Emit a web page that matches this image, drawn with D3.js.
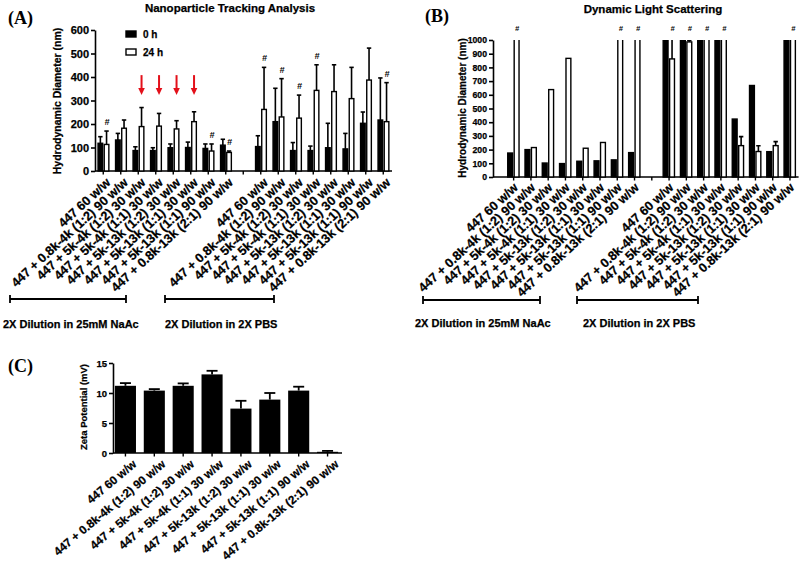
<!DOCTYPE html>
<html><head><meta charset="utf-8">
<script src="https://cdn.jsdelivr.net/npm/d3@7"></script>
<style>
body{margin:0;background:#fff}
svg{display:block}
text{font-family:"Liberation Sans",Arial,sans-serif;font-weight:bold;fill:#000}
text.s{stroke:#000;stroke-width:0.25px}
</style>
</head><body>
<svg id="chart" width="800" height="564"></svg>
<script>
// ---------------- DATA ----------------
const categories = [
  "447 60 w/w",
  "447 + 0.8k-4k (1:2) 90 w/w",
  "447 + 5k-4k (1:2) 30 w/w",
  "447 + 5k-4k (1:1) 30 w/w",
  "447 + 5k-13k (1:2) 30 w/w",
  "447 + 5k-13k (1:1) 30 w/w",
  "447 + 5k-13k (1:1) 90 w/w",
  "447 + 0.8k-13k (2:1) 90 w/w"
];
const buffers = ["2X Dilution in 25mM NaAc", "2X Dilution in 2X PBS"];
const series = ["0 h", "24 h"];

// Nanoparticle Tracking Analysis (nm): first 8 = NaAc, last 8 = PBS
const nta0h     = [118, 132, 87, 87, 99, 100, 96, 110,   104, 210, 87, 87, 99, 94, 203, 217];
const nta0hErr  = [ 28,  28, 16, 12, 16,  23, 19,  25,    46, 142, 34, 19, 104, 66, 48, 179];
const nta24h    = [113, 182, 189, 191, 179, 210, 85, 79,  262, 230, 225, 343, 338, 308, 387, 210];
const nta24hErr = [ 57,  35,  81,  54,  35,  42, 30,  6,  179, 163,  98, 109, 114, 133, 136, 166];
const ntaSig    = [1, 0, 0, 0, 0, 0, 1, 1,   1, 1, 1, 1, 0, 0, 0, 1];
const ntaArrowIdx = [2, 3, 4, 5];
const ntaArrowRange = [408, 353, 323];   // shaft top, head base, tip (nm)
const ntaTicks = [0, 100, 200, 300, 400, 500, 600];

// Dynamic Light Scattering (nm); values of 1000 are off scale
const dls0h     = [175, 200, 102, 98, 115, 118, 125, 178,   1000, 1000, 1000, 1000, 423, 668, 185, 1000];
const dls0hErr  = [0, 0, 0, 0, 0, 0, 0, 0,   0, 0, 0, 0, 0, 0, 0, 0];
const dls24h    = [1000, 215, 638, 866, 210, 252, 1000, 1000,   862, 986, 1000, 1000, 229, 186, 229, 1000];
const dls24hErr = [0, 0, 0, 0, 0, 0, 0, 0,   200, 10, 0, 0, 66, 42, 29, 0];
const dlsSig    = [1, 0, 0, 0, 0, 0, 1, 1,   1, 1, 1, 1, 0, 0, 0, 1];
const dlsTicks = [0, 100, 200, 300, 400, 500, 600, 700, 800, 900, 1000];

// Zeta potential (mV)
const zeta    = [11.2, 10.4, 11.2, 13.1, 7.4, 8.9, 10.4, 0.2];
const zetaErr = [0.45, 0.25, 0.4, 0.6, 1.3, 1.1, 0.65, 0.15];
const zetaTicks = [0, 5, 10, 15];

// ---------------- DRAW ----------------
const svg = d3.select("#chart");
const SERIF = '"Liberation Serif","Times New Roman",serif';

function styleAxis(sel, fs) {
  sel.selectAll("path,line").attr("stroke", "#000").attr("stroke-width", 1.6);
  sel.selectAll("text").attr("class", "s").attr("font-size", fs).attr("font-weight", "bold")
     .attr("font-family", '"Liberation Sans",Arial,sans-serif').attr("fill", "#000");
}

function groupedPanel(c) {
  const g = svg.append("g");
  const keys = d3.range(17);                 // 8 + gap + 8
  const x = d3.scaleBand().domain(keys).range(c.xr);
  const y = d3.scaleLinear().domain(c.yd).range(c.yr);
  const x1 = d3.scaleBand().domain(series).range(c.inner).paddingInner(0.06);
  const key = i => (i < 8 ? i : i + 1);
  const cx = i => x(key(i)) + x.bandwidth() / 2;
  const y0 = c.yr[0], yTop = c.yr[1];

  g.append("text").attr("x", c.letterPos[0]).attr("y", c.letterPos[1])
    .attr("font-family", SERIF).attr("font-size", 18).style("font-family", SERIF)
    .text(c.letter);
  g.append("text").attr("class", "s").attr("x", c.titlePos[0]).attr("y", c.titlePos[1])
    .attr("text-anchor", "middle").attr("font-size", 11.5).text(c.title);

  const ya = g.append("g").attr("transform", `translate(${c.axisX},0)`)
    .call(d3.axisLeft(y).tickValues(c.yticks).tickFormat(d3.format("d"))
      .tickSize(4).tickSizeOuter(0).tickPadding(2));
  styleAxis(ya, c.tickFs);
  g.append("text").attr("class", "s").attr("transform", `translate(${c.ytitlePos[0]},${c.ytitlePos[1]}) rotate(-90)`)
    .attr("text-anchor", "middle").attr("font-size", c.ytitleFs).text(c.ytitle);

  g.append("line").attr("x1", c.axisX).attr("x2", c.xr[1]).attr("y1", y0).attr("y2", y0)
    .attr("stroke", "#000").attr("stroke-width", 1.6);
  g.selectAll(".xt").data(keys).join("line")
    .attr("x1", k => x(k) + x.bandwidth() / 2).attr("x2", k => x(k) + x.bandwidth() / 2)
    .attr("y1", y0).attr("y2", y0 + 3.5).attr("stroke", "#000").attr("stroke-width", 1.4);

  const cid = "clip" + c.letter.replace(/\W/g, "");
  g.append("clipPath").attr("id", cid).append("rect")
    .attr("x", c.axisX).attr("y", yTop).attr("width", c.xr[1] - c.axisX).attr("height", y0 - yTop + 1);
  const bars = g.append("g").attr("clip-path", `url(#${cid})`);

  const data = [];
  for (let i = 0; i < 16; i++) {
    data.push({ i, s: series[0], v: c.v0[i], e: c.e0[i] });
    data.push({ i, s: series[1], v: c.v1[i], e: c.e1[i] });
  }
  const off = d => d.v >= c.yd[1];
  const eb = data.filter(d => d.e > 0);
  bars.selectAll(".ev").data(eb).join("line")
    .attr("x1", d => cx(d.i) + x1(d.s) + x1.bandwidth() / 2)
    .attr("x2", d => cx(d.i) + x1(d.s) + x1.bandwidth() / 2)
    .attr("y1", d => y(d.v)).attr("y2", d => y(d.v + d.e))
    .attr("stroke", "#000").attr("stroke-width", 1.6);
  bars.selectAll(".ec").data(eb).join("line")
    .attr("x1", d => cx(d.i) + x1(d.s) + x1.bandwidth() / 2 - 2.2)
    .attr("x2", d => cx(d.i) + x1(d.s) + x1.bandwidth() / 2 + 2.2)
    .attr("y1", d => y(d.v + d.e)).attr("y2", d => y(d.v + d.e))
    .attr("stroke", "#000").attr("stroke-width", 1.6);
  bars.selectAll(".bar").data(data).join("rect")
    .attr("x", d => cx(d.i) + x1(d.s) + 0.6)
    .attr("width", x1.bandwidth() - 1.2)
    .attr("y", d => off(d) ? yTop - 6 : y(d.v))
    .attr("height", d => y0 - (off(d) ? yTop - 6 : y(d.v)))
    .attr("fill", d => d.s === series[0] ? "#000" : "#fff")
    .attr("stroke", "#000").attr("stroke-width", 1.4);

  g.selectAll(".sig").data(d3.range(16).filter(i => c.sig[i]))
    .join("text")
    .attr("x", i => cx(i) + x1(series[1]) + x1.bandwidth() / 2 + 0.5)
    .attr("y", i => c.sigFixed ? yTop - 9 : y(c.v1[i] + c.e1[i]) - 6)
    .attr("text-anchor", "middle").attr("font-size", c.sigFs).attr("font-style", "italic")
    .text("#");

  g.selectAll(".xl").data(d3.range(16)).join("text").attr("class", "s")
    .attr("transform", i => `translate(${cx(i) + c.lblOff[0]},${y0 + c.lblOff[1]}) rotate(${c.lblAngle})`)
    .attr("text-anchor", "end").attr("dy", "0.71em").attr("font-size", c.lblFs)
    .text(i => categories[i % 8]);

  c.brackets.forEach((b, j) => {
    g.append("line").attr("x1", b[0]).attr("x2", b[1]).attr("y1", c.bracketY).attr("y2", c.bracketY)
      .attr("stroke", "#000").attr("stroke-width", 1.8);
    [b[0], b[1]].forEach(xx => g.append("line").attr("x1", xx).attr("x2", xx)
      .attr("y1", c.bracketY - 4).attr("y2", c.bracketY + 4).attr("stroke", "#000").attr("stroke-width", 1.8));
    g.append("text").attr("class", "s").attr("x", c.bufX[j]).attr("y", c.bufY).attr("font-size", 11).text(buffers[j]);
  });

  if (c.legend) {
    series.forEach((s, j) => {
      g.append("rect").attr("x", c.legend[0]).attr("y", c.legend[1] + j * 18).attr("width", 10).attr("height", 6)
        .attr("fill", j === 0 ? "#000" : "#fff").attr("stroke", "#000").attr("stroke-width", 1.4);
      g.append("text").attr("class", "s").attr("x", c.legend[0] + 17).attr("y", c.legend[1] + j * 18 + 6.5)
        .attr("font-size", 10).text(s);
    });
  }
  if (c.arrows) {
    c.arrows.forEach(i => {
      const ax = cx(i) + x1(series[1]) + x1.bandwidth() / 2;
      const [t, hb, tip] = c.arrowRange;
      g.append("line").attr("x1", ax).attr("x2", ax).attr("y1", y(t)).attr("y2", y(hb) + 1)
        .attr("stroke", "#e3101a").attr("stroke-width", 2);
      g.append("path").attr("d", `M${ax - 3.3},${y(hb)}L${ax + 3.3},${y(hb)}L${ax},${y(tip)}Z`)
        .attr("fill", "#e3101a");
    });
  }
}

groupedPanel({
  letter: "(A)", letterPos: [8, 24],
  title: "Nanoparticle Tracking Analysis", titlePos: [230, 12],
  ytitle: "Hydrodynamic Diameter (nm)", ytitlePos: [61, 101], ytitleFs: 10.5,
  xr: [94.5, 392], axisX: 95, yd: [0, 600], yr: [171, 30], yticks: ntaTicks, tickFs: 11,
  inner: [-5.8, 6.2],
  v0: nta0h, e0: nta0hErr, v1: nta24h, e1: nta24hErr, sig: ntaSig, sigFs: 9,
  lblOff: [2, 6], lblAngle: -42.7, lblFs: 12.7,
  brackets: [[10, 126], [165, 274]], bracketY: 299, bufX: [3, 165], bufY: 328,
  legend: [126, 31], arrows: ntaArrowIdx, arrowRange: ntaArrowRange
});

groupedPanel({
  letter: "(B)", letterPos: [425, 22],
  title: "Dynamic Light Scattering", titlePos: [653, 13],
  ytitle: "Hydrodynamic Diameter (nm)", ytitlePos: [466, 108], ytitleFs: 10,
  xr: [505, 798.6], axisX: 493, yd: [0, 1000], yr: [177, 40], yticks: dlsTicks, tickFs: 8.7,
  inner: [-6.5, 6],
  v0: dls0h, e0: dls0hErr, v1: dls24h, e1: dls24hErr, sig: dlsSig, sigFs: 7.5, sigFixed: true,
  lblOff: [-1, 5], lblAngle: -42.7, lblFs: 12.7,
  brackets: [[423, 540], [577, 698]], bracketY: 300, bufX: [415, 583], bufY: 327
});

// ---- Panel C
(function () {
  const g = svg.append("g");
  const x = d3.scaleBand().domain(categories).range([111, 342]).paddingInner(0.27).paddingOuter(0.135);
  const y = d3.scaleLinear().domain([0, 15]).range([453, 363]);
  g.append("text").attr("x", 8).attr("y", 372).attr("font-size", 18)
    .attr("font-family", SERIF).style("font-family", SERIF).text("(C)");
  const ya = g.append("g").attr("transform", "translate(113,0)")
    .call(d3.axisLeft(y).tickValues(zetaTicks).tickSize(4).tickSizeOuter(0).tickPadding(2));
  styleAxis(ya, 9.5);
  g.append("text").attr("class", "s").attr("transform", "translate(87,407) rotate(-90)").attr("text-anchor", "middle")
    .attr("font-size", 9.5).text("Zeta Potential (mV)");
  g.append("line").attr("x1", 113).attr("x2", 342).attr("y1", 453).attr("y2", 453)
    .attr("stroke", "#000").attr("stroke-width", 1.6);
  g.selectAll(".xt").data(categories).join("line")
    .attr("x1", d => x(d) + x.bandwidth() / 2).attr("x2", d => x(d) + x.bandwidth() / 2)
    .attr("y1", 453).attr("y2", 456.5).attr("stroke", "#000").attr("stroke-width", 1.4);
  const data = categories.map((cat, i) => ({ cat, v: zeta[i], e: zetaErr[i] }));
  g.selectAll(".ev").data(data).join("line")
    .attr("x1", d => x(d.cat) + x.bandwidth() / 2).attr("x2", d => x(d.cat) + x.bandwidth() / 2)
    .attr("y1", d => y(d.v)).attr("y2", d => y(d.v + d.e)).attr("stroke", "#000").attr("stroke-width", 1.8);
  g.selectAll(".ec").data(data).join("line")
    .attr("x1", d => x(d.cat) + x.bandwidth() / 2 - 5.5).attr("x2", d => x(d.cat) + x.bandwidth() / 2 + 5.5)
    .attr("y1", d => y(d.v + d.e)).attr("y2", d => y(d.v + d.e)).attr("stroke", "#000").attr("stroke-width", 1.8);
  g.selectAll(".bar").data(data).join("rect")
    .attr("x", d => x(d.cat)).attr("width", x.bandwidth())
    .attr("y", d => y(d.v)).attr("height", d => 453 - y(d.v)).attr("fill", "#000");
  g.selectAll(".xl").data(categories).join("text").attr("class", "s")
    .attr("transform", d => `translate(${x(d) + x.bandwidth() / 2 + 6.5},${453 + 6}) rotate(-40)`)
    .attr("text-anchor", "end").attr("dy", "0.71em").attr("font-size", 11.7).text(d => d);
})();
</script>
</body></html>
